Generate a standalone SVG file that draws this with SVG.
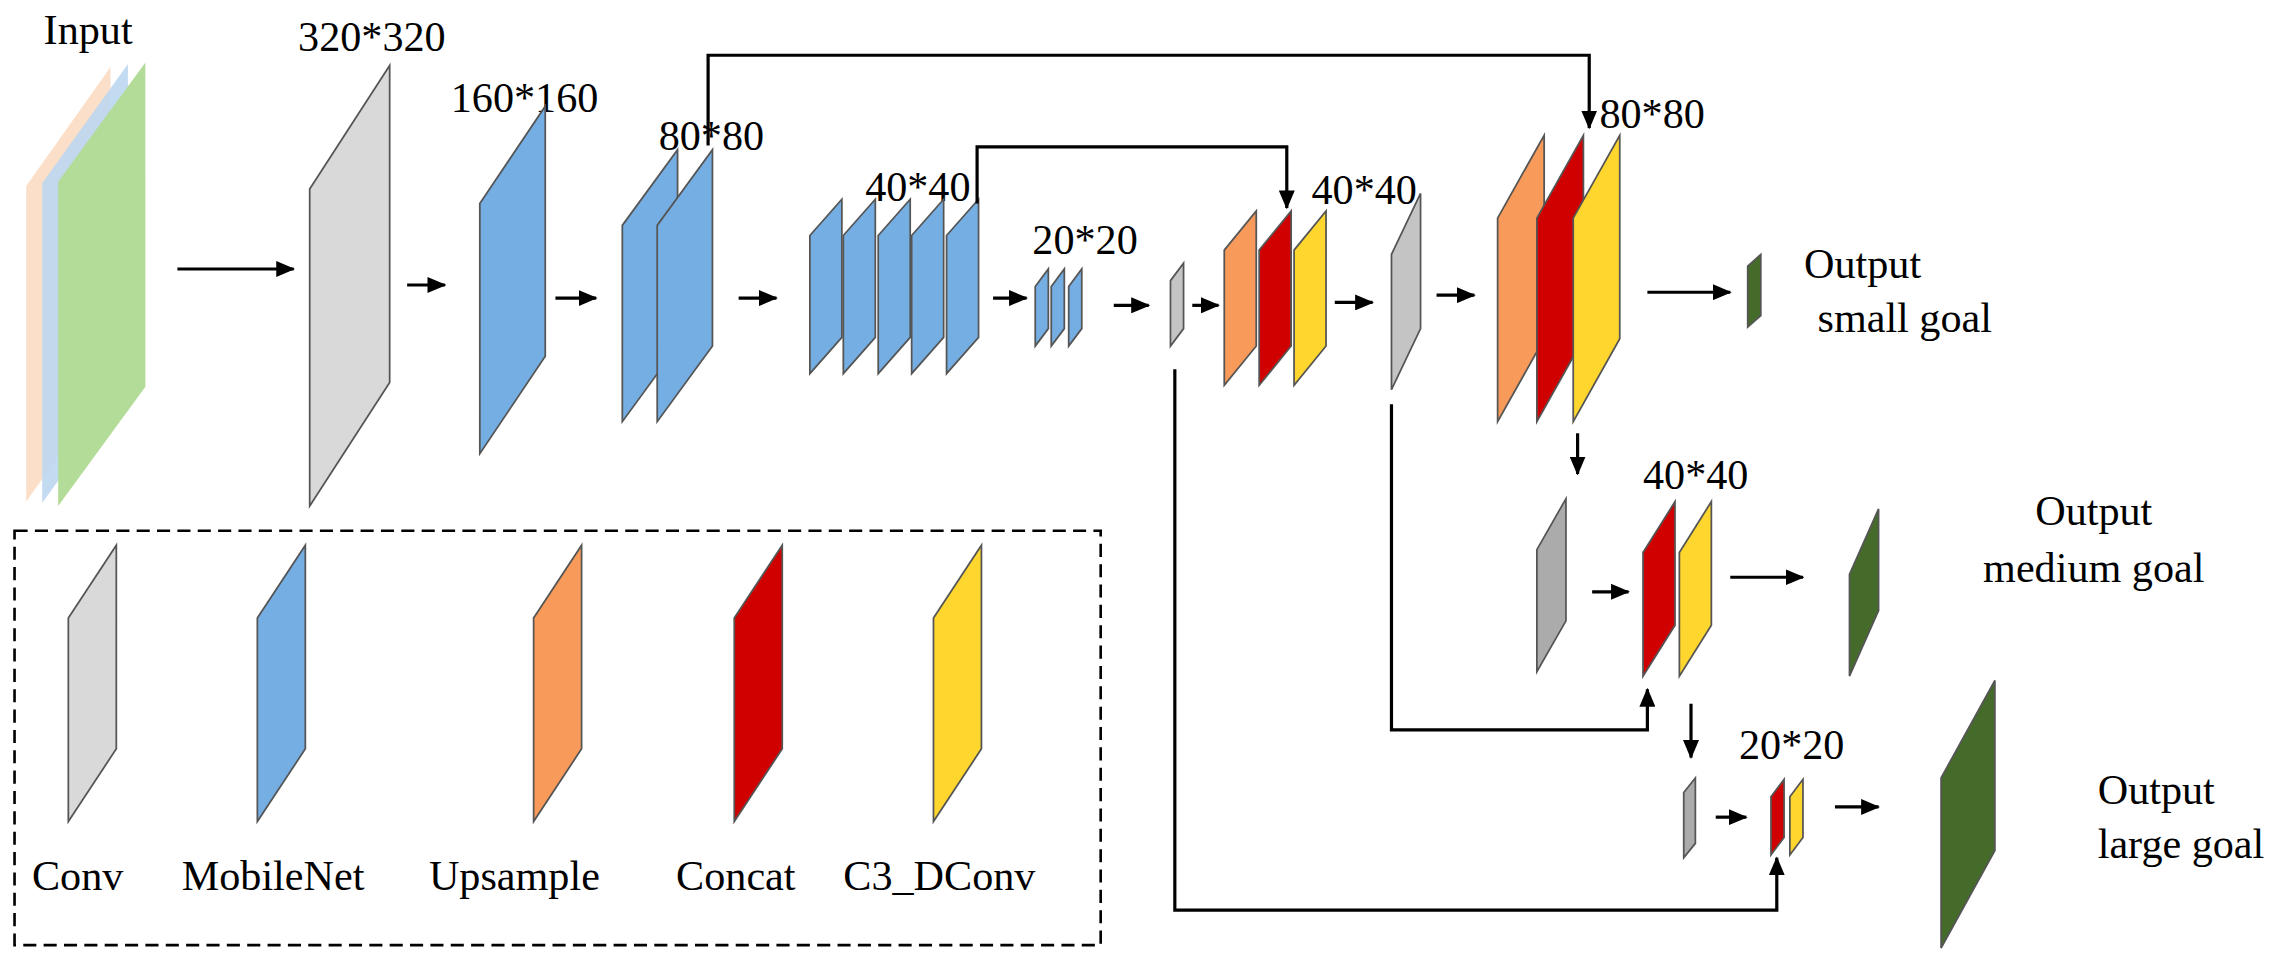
<svg xmlns="http://www.w3.org/2000/svg" width="2280" height="969" viewBox="0 0 2280 969">
<defs>
<marker id="ah" markerUnits="userSpaceOnUse" markerWidth="13" markerHeight="11" refX="12" refY="5.5" orient="auto"><path d="M0,0 L13,5.5 L0,11 z" fill="#000"/></marker>
<style>
text{font-family:"Liberation Serif","Times New Roman",serif;fill:#000}
.lb{font-size:29px;font-family:"Liberation Serif","Times New Roman",serif}
.ln{fill:none;stroke:#000;stroke-width:1.8}
.ar{fill:none;stroke:#000;stroke-width:2.2;marker-end:url(#ah)}
.s{stroke:#555;stroke-width:1.2}
.g{fill:#d9d9d9}.g2{fill:#c4c4c4}.g3{fill:#ababab}
.b{fill:#75aee3}.o{fill:#f79a5a}.r{fill:#d10000}.y{fill:#ffd62e}.dg{fill:#456b2a}
</style>
</defs>
<rect width="2280" height="969" fill="#fff"/>
<g transform="scale(1.454)" font-family="Liberation Serif, Times New Roman, serif">
<g id="input">
<text class="lb" x="30" y="30">Input</text>
<polygon points="18,128 76,46 76,263 18,345" fill="#fad7bc" opacity="0.8"/>
<polygon points="29,126 88,44 88,264 29,346" fill="#bcd7f0" opacity="0.9"/>
<polygon points="40,125 100,43 100,266 40,348" fill="#b2dc98"/>
</g>
<g id="conv320"><text class="lb" x="205" y="35">320*320</text>
<polygon class="s g" points="213,130 268,45 268,263 213,348"/></g>
<g id="mb160"><text class="lb" x="310" y="77">160*160</text>
<polygon class="s b" points="330,140 375,73 375,245 330,312"/></g>
<g id="mb80"><text class="lb" x="453" y="103">80*80</text>
<polygon class="s b" points="428,155 466,103 466,238 428,290"/>
<polygon class="s b" points="452,155 490,103 490,238 452,290"/></g>
<g id="mb40"><text class="lb" x="595" y="138">40*40</text>
<polygon class="s b" points="557,162 579,137 579,232 557,257"/>
<polygon class="s b" points="580,162 602,137 602,232 580,257"/>
<polygon class="s b" points="604,162 626,137 626,232 604,257"/>
<polygon class="s b" points="627,162 649,137 649,232 627,257"/>
<polygon class="s b" points="651,162 673,137 673,232 651,257"/></g>
<g id="mb20"><text class="lb" x="710" y="175">20*20</text>
<polygon class="s b" points="712,197 721,185 721,226 712,238"/>
<polygon class="s b" points="723,197 732,185 732,226 723,238"/>
<polygon class="s b" points="735,197 744,185 744,226 735,238"/></g>
<g id="conv20"><polygon class="s g2" points="805,193 814,181 814,226 805,238"/></g>
<g id="cat40"><text class="lb" x="902" y="140">40*40</text>
<polygon class="s o" points="842,172 864,145 864,238 842,265"/>
<polygon class="s r" points="866,172 888,145 888,238 866,265"/>
<polygon class="s y" points="890,172 912,145 912,238 890,265"/></g>
<g id="conv40"><polygon class="s g2" points="957,175 977,133 977,226 957,268"/></g>
<g id="cat80"><text class="lb" x="1100" y="88">80*80</text>
<polygon class="s o" points="1030,150 1062,93 1062,233 1030,290"/>
<polygon class="s r" points="1057,150 1089,93 1089,233 1057,290"/>
<polygon class="s y" points="1082,150 1114,93 1114,233 1082,290"/></g>
<g id="outsmall"><polygon class="s dg" points="1202,183 1211,175 1211,217 1202,225"/>
<text class="lb" x="1281" y="191" text-anchor="middle">Output</text>
<text class="lb" x="1310" y="228" text-anchor="middle">small goal</text></g>
<g id="med"><text class="lb" x="1130" y="336">40*40</text>
<polygon class="s g3" points="1057,378 1077,343 1077,427 1057,462"/>
<polygon class="s r" points="1130,380 1152,345 1152,430 1130,465"/>
<polygon class="s y" points="1155,380 1177,345 1177,430 1155,465"/></g>
<g id="outmed"><polygon class="s dg" points="1272,395 1292,350 1292,420 1272,465"/>
<text class="lb" x="1440" y="361" text-anchor="middle">Output</text>
<text class="lb" x="1440" y="400" text-anchor="middle">medium goal</text></g>
<g id="large"><text class="lb" x="1196" y="522">20*20</text>
<polygon class="s g3" points="1158,545 1166,535 1166,580 1158,590"/>
<polygon class="s r" points="1218,548 1227,536 1227,576 1218,588"/>
<polygon class="s y" points="1231,548 1240,536 1240,576 1231,588"/></g>
<g id="outlarge"><polygon class="s dg" points="1335,535 1372,468 1372,585 1335,652"/>
<text class="lb" x="1483" y="553" text-anchor="middle">Output</text>
<text class="lb" x="1500" y="590" text-anchor="middle">large goal</text></g>
<g id="legend">
<rect x="10" y="365" width="747" height="285" fill="none" stroke="#000" stroke-width="1.8" stroke-dasharray="9,5"/>
<polygon class="s g" points="47,425 80,375 80,515 47,565"/>
<polygon class="s b" points="177,425 210,375 210,515 177,565"/>
<polygon class="s o" points="367,425 400,375 400,515 367,565"/>
<polygon class="s r" points="505,425 538,375 538,515 505,565"/>
<polygon class="s y" points="642,425 675,375 675,515 642,565"/>
<text class="lb" x="22" y="612">Conv</text>
<text class="lb" x="125" y="612">MobileNet</text>
<text class="lb" x="295" y="612">Upsample</text>
<text class="lb" x="465" y="612">Concat</text>
<text class="lb" x="580" y="612">C3_DConv</text>
</g>
<g id="connectors">
<line class="ar" x1="122" y1="185" x2="202" y2="185"/>
<line class="ar" x1="280" y1="196" x2="306" y2="196"/>
<line class="ar" x1="382" y1="205" x2="410" y2="205"/>
<line class="ar" x1="508" y1="205" x2="534" y2="205"/>
<line class="ar" x1="683" y1="205" x2="706" y2="205"/>
<line class="ar" x1="766" y1="210" x2="790" y2="210"/>
<line class="ar" x1="820" y1="210" x2="838" y2="210"/>
<line class="ar" x1="918" y1="208" x2="944" y2="208"/>
<line class="ar" x1="988" y1="203" x2="1014" y2="203"/>
<line class="ar" x1="1133" y1="201" x2="1190" y2="201"/>
<line class="ar" x1="1085" y1="298" x2="1085" y2="326"/>
<line class="ar" x1="1095" y1="407" x2="1120" y2="407"/>
<line class="ar" x1="1190" y1="397" x2="1240" y2="397"/>
<line class="ar" x1="1163" y1="484" x2="1163" y2="521"/>
<line class="ar" x1="1180" y1="562" x2="1201" y2="562"/>
<line class="ar" x1="1262" y1="555" x2="1292" y2="555"/>
<polyline class="ar" points="487,100 487,38 1093,38 1093,88"/>
<polyline class="ar" points="672,140 672,101 885,101 885,143"/>
<polyline class="ar" points="957,278 957,502 1133,502 1133,474"/>
<polyline class="ar" points="808,254 808,626 1222,626 1222,590"/>
</g>
</g>
</svg>
